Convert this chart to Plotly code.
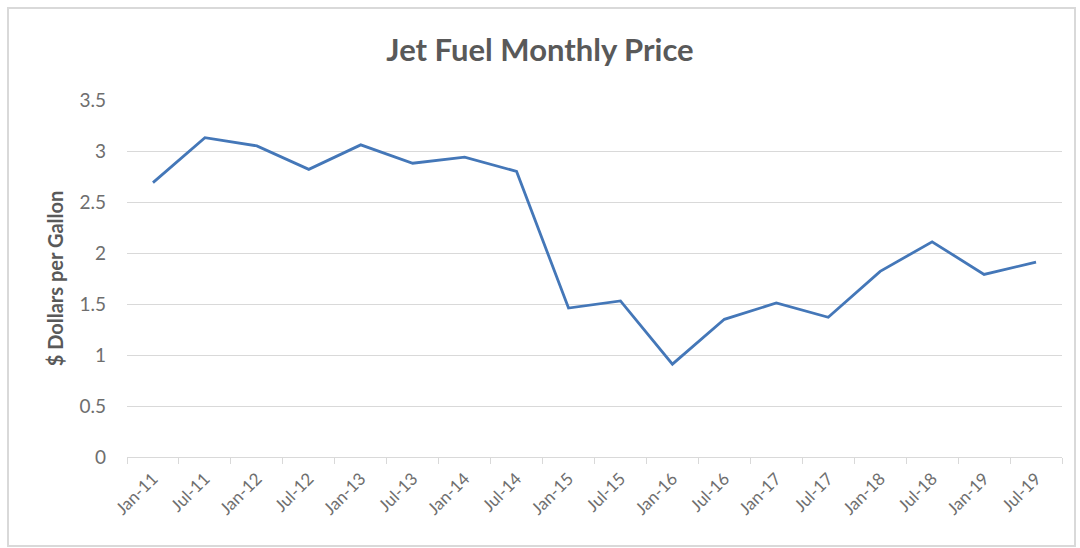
import plotly.graph_objects as go

months = ["Jan-11", "Jul-11", "Jan-12", "Jul-12", "Jan-13", "Jul-13", "Jan-14", "Jul-14",
          "Jan-15", "Jul-15", "Jan-16", "Jul-16", "Jan-17", "Jul-17", "Jan-18", "Jul-18",
          "Jan-19", "Jul-19"]
price = [2.69, 3.13, 3.05, 2.82, 3.06, 2.88, 2.94, 2.80,
         1.46, 1.53, 0.91, 1.35, 1.51, 1.37, 1.82, 2.11,
         1.79, 1.91]

TEXT = "#595959"
GRID = "#D9D9D9"
FONT = "Lato, 'Open Sans', sans-serif"

fig = go.Figure()
fig.add_trace(go.Scatter(x=months, y=price, mode="lines",
                         line=dict(color="#4477B8", width=2.8),
                         hoverinfo="x+y"))

W, H = 1080, 548
L, R, T, B = 127, 18, 100, 91
pw, ph = W - L - R, H - T - B

def px(x):
    return (x - L) / pw

def py(y):
    return (H - B - y) / ph

fig.update_layout(
    width=W, height=H,
    margin=dict(l=L, r=R, t=T, b=B, autoexpand=False),
    paper_bgcolor="white", plot_bgcolor="white",
    showlegend=False,
    title=dict(text="<b>Jet Fuel Monthly Price</b>", x=0.5, xanchor="center",
               y=1 - 50 / H, yanchor="middle",
               font=dict(family=FONT, size=31, color=TEXT)),
    font=dict(family=FONT, color=TEXT),
    xaxis=dict(type="category", range=[-0.5, len(months) - 0.5],
               tickson="boundaries", ticks="outside", ticklen=6, tickcolor=GRID,
               showline=True, linecolor=GRID, linewidth=1, showgrid=False,
               ticklabelstandoff=4,
               tickangle=-45, tickfont=dict(size=17, color="#6E6E6E")),
    yaxis=dict(range=[0, 3.5], dtick=0.5, tick0=0, showgrid=True, gridcolor=GRID,
               gridwidth=1, zeroline=False, showline=False, ticks="",
               ticklabelstandoff=20,
               tickfont=dict(size=19, color="#6E6E6E"),
               title=dict(text="<b>$ Dollars per Gallon</b>", standoff=10,
                          font=dict(size=20, color=TEXT))),
    shapes=[dict(type="rect", xref="paper", yref="paper",
                 x0=px(8), x1=px(1075), y0=py(546), y1=py(8),
                 line=dict(color="#D9D9D9", width=2), fillcolor="rgba(0,0,0,0)",
                 layer="below")],
)

fig.write_html("out.html", config={"displayModeBar": False},
               post_script="document.body.style.margin='0';document.body.style.padding='0';")
